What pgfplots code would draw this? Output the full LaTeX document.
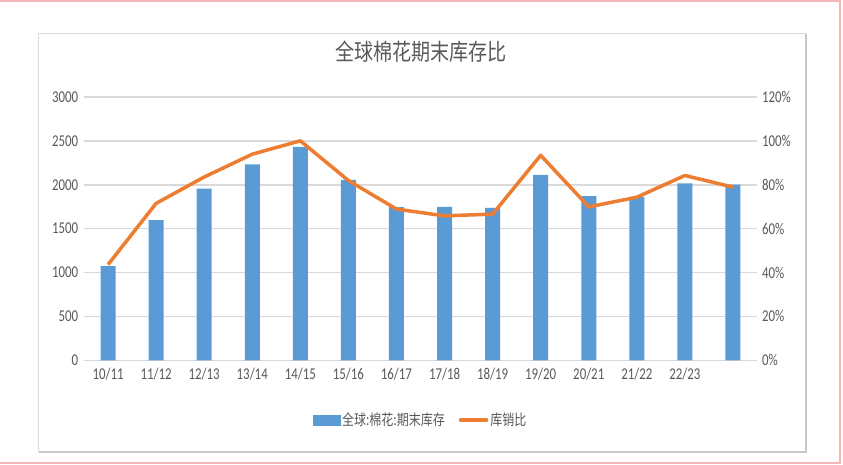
\documentclass[border=0pt]{standalone}
\usepackage{pgfplots}
\pgfplotsset{compat=1.18}
\usepackage{fontspec}
\setmainfont{Carlito}
\newfontfamily\cjk{Noto Sans CJK SC}
\definecolor{barblue}{HTML}{5B9BD5}
\definecolor{lineorange}{HTML}{ED7D31}
\definecolor{gridgray}{HTML}{D9D9D9}
\definecolor{textgray}{HTML}{595959}
\definecolor{framepink}{HTML}{F4B6B6}

\begin{document}
\begin{tikzpicture}
\useasboundingbox (0,0) rectangle (843pt,-464pt);
\fill[white] (0,0) rectangle (843pt,-464pt);
\draw[framepink, line width=1.2pt] (-3pt,-1pt) -- (840pt,-1pt) -- (840pt,-463pt) -- (-3pt,-463pt);
\draw[gridgray, line width=1pt] (38pt,-33pt) rectangle (805pt,-451pt);
\draw[gridgray!80!gray, line width=1.5pt] (39pt,-452pt) -- (806pt,-452pt) -- (806pt,-34pt);

\node[text=textgray, font=\cjk\fontsize{23}{26}\selectfont, xscale=0.83] at (421pt,-52pt) {全球棉花期末库存比};

\pgfplotsset{
  common/.style={
    at={(84pt,-360.3pt)}, anchor=south west,
    scale only axis, width=673pt, height=263.4pt,
    xmin=-0.5, xmax=13.5,
    axis line style={draw=none},
    tick style={draw=none},
    tick label style={font=\fontsize{16.5}{18}\selectfont, text=textgray, xscale=0.78},
    /pgf/number format/assume math mode=true,
  }
}

\begin{axis}[
  common,
  ymin=0, ymax=3000,
  ytick={0,500,...,3000},
  yticklabel style={xshift=-4pt},
  /pgf/number format/1000 sep={},
  ymajorgrids,
  grid style={gridgray, line width=1.6pt},
  xtick={0,...,13},
  xticklabels={10/11,11/12,12/13,13/14,14/15,15/16,16/17,17/18,18/19,19/20,20/21,21/22,22/23,},
  xticklabel style={yshift=-4pt},
]
\addplot[ybar, bar width=15pt, fill=barblue, draw=none] coordinates {
  (0,1074) (1,1596) (2,1956) (3,2232) (4,2432) (5,2056) (6,1745)
  (7,1748) (8,1735) (9,2113) (10,1871) (11,1860) (12,2014) (13,2002)
};
\end{axis}

\begin{axis}[
  common,
  axis y line*=right,
  axis x line=none,
  ymin=0, ymax=120,
  ytick={0,20,...,120},
  yticklabels={0\%,20\%,40\%,60\%,80\%,100\%,120\%},
  yticklabel style={xshift=3pt},
  legend style={at={(0.5,-0.227)}, anchor=center, draw=none, fill=none,
    legend columns=2, font=\cjk\fontsize{15}{17}\selectfont, text=textgray,
    /tikz/every even column/.append style={column sep=12pt}},
  legend cell align=left,
  legend image code/.code={},
]
\addlegendimage{legend image code/.code={\fill[barblue] (0pt,-5pt) rectangle (27pt,5pt);}}
\addlegendentry{\scalebox{0.8}[1]{全球:棉花:期末库存}}
\addplot[lineorange, line width=3.5pt, line join=round, mark=none,
  legend image code/.code={\draw[lineorange, line width=3.5pt, line cap=round] (1pt,0pt) -- (27pt,0pt);}] coordinates {
  (0,43.6) (1,71.5) (2,83.5) (3,93.9) (4,100.0) (5,81.9) (6,68.9)
  (7,65.8) (8,66.6) (9,93.4) (10,69.9) (11,74.3) (12,84.2) (13,78.9)
};
\addlegendentry{\scalebox{0.8}[1]{库销比}}
\end{axis}
\end{tikzpicture}
\end{document}
